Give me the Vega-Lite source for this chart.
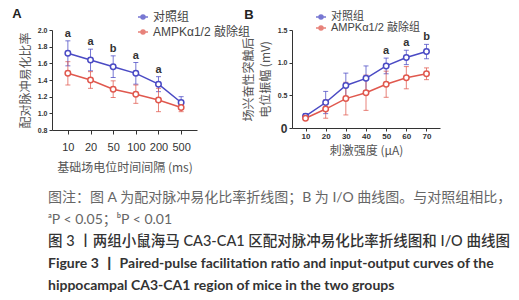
{
  "$schema": "https://vega.github.io/schema/vega-lite/v6.json",
  "padding": {"left": 12, "top": 8, "right": 0, "bottom": 0},
  "config": {
    "view": {"stroke": null},
    "font": "Liberation Sans, Noto Sans CJK SC",
    "axis": {"grid": false, "domainColor": "#333", "tickColor": "#333", "labelColor": "#333", "titleColor": "#555", "titleFontWeight": "normal", "titleFont": "Noto Sans CJK SC", "titleFontSize": 12, "labelOverlap": false}
  },
  "datasets": {
    "ppf": [
      {"interval": 10, "group": "对照组", "mean": 1.72, "low": 1.57, "high": 1.87, "sig": "a"},
      {"interval": 20, "group": "对照组", "mean": 1.64, "low": 1.51, "high": 1.77, "sig": "a"},
      {"interval": 50, "group": "对照组", "mean": 1.56, "low": 1.43, "high": 1.69, "sig": "b"},
      {"interval": 100, "group": "对照组", "mean": 1.48, "low": 1.35, "high": 1.61, "sig": "a"},
      {"interval": 200, "group": "对照组", "mean": 1.35, "low": 1.26, "high": 1.44, "sig": "a"},
      {"interval": 500, "group": "对照组", "mean": 1.13, "low": 1.06, "high": 1.2, "sig": ""},
      {"interval": 10, "group": "AMPKα1/2 敲除组", "mean": 1.48, "low": 1.34, "high": 1.62, "sig": ""},
      {"interval": 20, "group": "AMPKα1/2 敲除组", "mean": 1.4, "low": 1.3, "high": 1.5, "sig": ""},
      {"interval": 50, "group": "AMPKα1/2 敲除组", "mean": 1.29, "low": 1.19, "high": 1.39, "sig": ""},
      {"interval": 100, "group": "AMPKα1/2 敲除组", "mean": 1.23, "low": 1.12, "high": 1.34, "sig": ""},
      {"interval": 200, "group": "AMPKα1/2 敲除组", "mean": 1.16, "low": 1.02, "high": 1.3, "sig": ""},
      {"interval": 500, "group": "AMPKα1/2 敲除组", "mean": 1.07, "low": 1.02, "high": 1.12, "sig": ""}
    ],
    "io": [
      {"stim": 10, "group": "对照组", "mean": 0.18, "low": 0.14, "high": 0.22, "sig": ""},
      {"stim": 20, "group": "对照组", "mean": 0.39, "low": 0.22, "high": 0.56, "sig": ""},
      {"stim": 30, "group": "对照组", "mean": 0.65, "low": 0.46, "high": 0.84, "sig": ""},
      {"stim": 40, "group": "对照组", "mean": 0.76, "low": 0.57, "high": 0.95, "sig": ""},
      {"stim": 50, "group": "对照组", "mean": 0.95, "low": 0.83, "high": 1.07, "sig": "a"},
      {"stim": 60, "group": "对照组", "mean": 1.08, "low": 0.97, "high": 1.19, "sig": "a"},
      {"stim": 70, "group": "对照组", "mean": 1.17, "low": 1.06, "high": 1.28, "sig": "b"},
      {"stim": 10, "group": "AMPKα1/2 敲除组", "mean": 0.15, "low": 0.12, "high": 0.18, "sig": ""},
      {"stim": 20, "group": "AMPKα1/2 敲除组", "mean": 0.29, "low": 0.15, "high": 0.43, "sig": ""},
      {"stim": 30, "group": "AMPKα1/2 敲除组", "mean": 0.45, "low": 0.2, "high": 0.7, "sig": ""},
      {"stim": 40, "group": "AMPKα1/2 敲除组", "mean": 0.54, "low": 0.27, "high": 0.81, "sig": ""},
      {"stim": 50, "group": "AMPKα1/2 敲除组", "mean": 0.67, "low": 0.47, "high": 0.87, "sig": ""},
      {"stim": 60, "group": "AMPKα1/2 敲除组", "mean": 0.77, "low": 0.6, "high": 0.94, "sig": ""},
      {"stim": 70, "group": "AMPKα1/2 敲除组", "mean": 0.83, "low": 0.74, "high": 0.92, "sig": ""}
    ],
    "caption": [
      {"line": 1, "kind": "note", "text": "图注：图 A 为配对脉冲易化比率折线图；B 为 I/O 曲线图。与对照组相比，"},
      {"line": 2, "kind": "note", "text": "ᵃP < 0.05；ᵇP < 0.01"},
      {"line": 3, "kind": "cn", "text": "图 3 丨两组小鼠海马 CA3-CA1 区配对脉冲易化比率折线图和 I/O 曲线图"},
      {"line": 4, "kind": "en", "text": "Figure 3  丨  Paired-pulse facilitation ratio and input-output curves of the"},
      {"line": 5, "kind": "en", "text": "hippocampal CA3-CA1 region of mice in the two groups"}
    ]
  },
  "vconcat": [
    {
      "hconcat": [
        {
          "width": 145,
          "height": 100,
          "title": {"text": "A", "anchor": "start", "frame": "bounds", "fontSize": 13, "fontWeight": "bold", "font": "Liberation Sans", "color": "#222", "offset": -10, "dx": -7},
          "data": {"name": "ppf"},
          "encoding": {
            "x": {"field": "interval", "type": "ordinal", "scale": {"type": "point", "padding": 0.7},
              "axis": {"title": "基础场电位时间间隔 (ms)", "labelAngle": 0, "labelFontSize": 11, "labelPadding": 7, "tickSize": 4, "titlePadding": 10}},
            "y": {"field": "mean", "type": "quantitative",
              "scale": {"domain": [0.8, 2.0], "nice": false},
              "axis": {"title": "配对脉冲易化比率", "values": [0.8, 1.0, 1.2, 1.4, 1.6, 1.8, 2.0], "format": ".1f", "labelFontSize": 7, "labelFontWeight": "bold", "tickSize": 3, "titlePadding": 5}},
            "color": {"field": "group", "type": "nominal",
              "scale": {"domain": ["对照组", "AMPKα1/2 敲除组"], "range": ["#4a4ac4", "#e0584e"]},
              "legend": {"title": null, "orient": "none", "legendX": 85, "legendY": -19, "labelFontSize": 12, "labelFont": "Liberation Sans, Noto Sans CJK SC", "labelColor": "#444", "rowPadding": 3,
                "symbolType": "M-1,0H-0.4M0.4,0H1M0.4,0A0.4,0.4 0 1 1 -0.4,0A0.4,0.4 0 1 1 0.4,0", "symbolSize": 100, "symbolStrokeWidth": 1.5, "symbolFillColor": "white"}}
          },
          "layer": [
            {"mark": {"type": "errorbar", "ticks": {"size": 5}, "thickness": 1, "opacity": 0.75},
              "encoding": {"y": {"field": "low", "type": "quantitative"}, "y2": {"field": "high"}}},
            {"mark": {"type": "line", "strokeWidth": 1.5}},
            {"mark": {"type": "point", "filled": false, "fill": "white", "size": 30, "strokeWidth": 1.5, "opacity": 1}},
            {"transform": [{"filter": "datum.sig != ''"}],
              "mark": {"type": "text", "baseline": "bottom", "dy": -2, "fontSize": 11, "fontWeight": "bold", "color": "#333"},
              "encoding": {"y": {"field": "high", "type": "quantitative"}, "text": {"field": "sig"}, "color": {"value": "#333"}}}
          ]
        },
        {
          "width": 148,
          "height": 98,
          "title": {"text": "B", "anchor": "start", "frame": "bounds", "fontSize": 13, "fontWeight": "bold", "font": "Liberation Sans", "color": "#222", "offset": -11, "dx": 2},
          "data": {"name": "io"},
          "encoding": {
            "x": {"field": "stim", "type": "ordinal", "scale": {"type": "point", "padding": 0.67},
              "axis": {"title": "刺激强度 (μA)", "labelAngle": 0, "labelFontSize": 8, "labelFontWeight": "bold", "labelPadding": 1, "tickSize": 3, "titlePadding": 5}},
            "y": {"field": "mean", "type": "quantitative",
              "scale": {"domain": [0, 1.5], "nice": false},
              "axis": {"title": ["场兴奋性突触后", "电位振幅 (mV)"], "titleLineHeight": 17, "values": [0, 0.5, 1.0, 1.5], "labelExpr": "datum.value == 0 ? '0' : format(datum.value, '.1f')",
                "labelFontSize": {"condition": {"test": "datum.value == 0", "value": 12}, "value": 7}, "labelFontWeight": "bold", "tickSize": 3, "titlePadding": 5}},
            "color": {"field": "group", "type": "nominal",
              "scale": {"domain": ["对照组", "AMPKα1/2 敲除组"], "range": ["#4a4ac4", "#e0584e"]},
              "legend": {"title": null, "orient": "none", "legendX": 23, "legendY": -19, "labelFontSize": 11, "labelFont": "Liberation Sans, Noto Sans CJK SC", "labelColor": "#444", "rowPadding": 0,
                "symbolType": "M-1,0H-0.4M0.4,0H1M0.4,0A0.4,0.4 0 1 1 -0.4,0A0.4,0.4 0 1 1 0.4,0", "symbolSize": 100, "symbolStrokeWidth": 1.5, "symbolFillColor": "white"}}
          },
          "layer": [
            {"mark": {"type": "errorbar", "ticks": {"size": 5}, "thickness": 1, "opacity": 0.75},
              "encoding": {"y": {"field": "low", "type": "quantitative"}, "y2": {"field": "high"}}},
            {"mark": {"type": "line", "strokeWidth": 1.5}},
            {"mark": {"type": "point", "filled": false, "fill": "white", "size": 30, "strokeWidth": 1.5, "opacity": 1}},
            {"transform": [{"filter": "datum.sig != ''"}],
              "mark": {"type": "text", "baseline": "bottom", "dy": -2, "fontSize": 11, "fontWeight": "bold", "color": "#333"},
              "encoding": {"y": {"field": "high", "type": "quantitative"}, "text": {"field": "sig"}, "color": {"value": "#333"}}}
          ]
        }
      ],
      "bounds": "flush",
      "spacing": 95,
      "resolve": {"scale": {"color": "independent"}, "legend": {"color": "independent"}}
    },
    {
      "width": 505,
      "height": 110,
      "data": {"name": "caption"},
      "encoding": {
        "y": {"field": "line", "type": "ordinal", "scale": {"type": "point", "padding": 0.5}, "axis": null},
        "x": {"datum": 0, "type": "quantitative", "scale": {"domain": [0, 1]}, "axis": null},
        "text": {"field": "text"}
      },
      "layer": [
        {"transform": [{"filter": "datum.kind == 'note'"}], "mark": {"type": "text", "align": "left", "baseline": "middle", "dx": -4, "font": "Lato, Noto Sans CJK SC", "fontSize": 14, "color": "#666"}},
        {"transform": [{"filter": "datum.kind == 'cn'"}], "mark": {"type": "text", "align": "left", "baseline": "middle", "dx": -4, "font": "Lato, Noto Sans CJK SC", "fontSize": 14.5, "fontWeight": 500, "color": "#333"}},
        {"transform": [{"filter": "datum.kind == 'en'"}], "mark": {"type": "text", "align": "left", "baseline": "middle", "dx": -4, "font": "Lato, Noto Sans CJK SC", "fontSize": 14, "fontWeight": "bold", "color": "#333"}}
      ]
    }
  ],
  "spacing": 14
}
